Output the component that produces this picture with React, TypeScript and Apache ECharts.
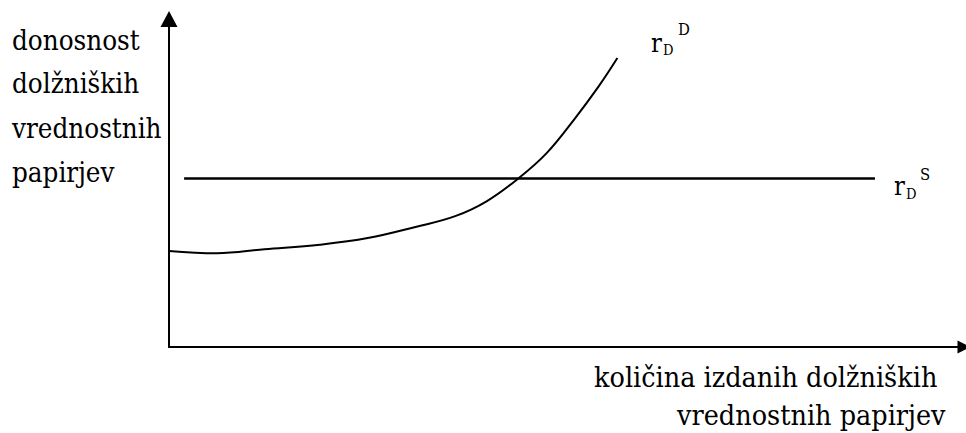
import React, { useEffect, useRef } from "react";
import * as echarts from "echarts";

// Demand curve r_D^D (x = quantity, y = yield), arbitrary units 0..100
const demandX = [0, 6, 12, 19, 25, 31, 36, 40, 44, 47.5, 51, 54, 56.4];
const demandY = [29.3, 28.6, 29.8, 31.2, 33.2, 36.6, 39.9, 44.5, 51.5, 59.1, 69.5, 79.3, 88.1];

// Supply line r_D^S (horizontal)
const supplyX = [1.9, 88.8];
const supplyY = [51.4, 51.4];

const yAxisTitle = ["donosnost", "dolžniških", "vrednostnih", "papirjev"];
const xAxisTitle = ["količina izdanih dolžniških", "vrednostnih papirjev"];
const demandLabel = { main: "r", sub: "D", sup: "D" };
const supplyLabel = { main: "r", sub: "D", sup: "S" };

const FAM = "DejaVu Serif";

function txt(text: string, x: number, baseline: number, size: number, sx: number) {
  return {
    type: "text",
    x,
    y: baseline - 0.346 * size,
    scaleX: sx,
    silent: true,
    style: {
      text,
      fontSize: size,
      fontFamily: FAM,
      fill: "#000",
      verticalAlign: "middle",
      align: "left",
    },
  };
}

export default function App() {
  const ref = useRef<HTMLDivElement>(null);
  useEffect(() => {
    if (!ref.current) return;
    const chart = echarts.init(ref.current, undefined, { renderer: "svg" });
    const yBaselines = [50.5, 93, 138, 182];
    const graphics: any[] = [];
    yAxisTitle.forEach((t, i) => graphics.push(txt(t, 12, yBaselines[i], 27.5, 0.9)));
    graphics.push(txt(xAxisTitle[0], 594, 387, 27.5, 0.93));
    graphics.push(txt(xAxisTitle[1], 677, 425, 27.5, 0.93));
    graphics.push(txt(demandLabel.main, 651, 51.7, 26, 0.875));
    graphics.push(txt(demandLabel.sub, 663, 55, 15, 0.875));
    graphics.push(txt(demandLabel.sup, 678, 35, 17, 0.875));
    graphics.push(txt(supplyLabel.main, 894, 195, 26, 0.875));
    graphics.push(txt(supplyLabel.sub, 906, 199, 15, 0.875));
    graphics.push(txt(supplyLabel.sup, 920, 180, 17, 0.875));

    chart.setOption({
      animation: false,
      backgroundColor: "#fff",
      grid: { left: 169, right: 2, top: 19, bottom: 86, containLabel: false },
      xAxis: {
        type: "value",
        min: 0,
        max: 100,
        axisLine: {
          show: true,
          onZero: false,
          symbol: ["none", "triangle"],
          symbolSize: [13, 13],
          lineStyle: { color: "#000", width: 2 },
        },
        axisTick: { show: false },
        axisLabel: { show: false },
        splitLine: { show: false },
      },
      yAxis: {
        type: "value",
        min: 0,
        max: 100,
        axisLine: {
          show: true,
          onZero: false,
          symbol: ["none", "triangle"],
          symbolSize: [17, 16],
          lineStyle: { color: "#000", width: 2 },
        },
        axisTick: { show: false },
        axisLabel: { show: false },
        splitLine: { show: false },
      },
      series: [
        {
          name: "rDS",
          type: "line",
          data: supplyX.map((x, i) => [x, supplyY[i]]),
          showSymbol: false,
          symbol: "none",
          lineStyle: { color: "#000", width: 2.5 },
          silent: true,
        },
        {
          name: "rDD",
          type: "line",
          data: demandX.map((x, i) => [x, demandY[i]]),
          smooth: 0.4,
          showSymbol: false,
          symbol: "none",
          lineStyle: { color: "#000", width: 2 },
          silent: true,
        },
      ],
      graphic: graphics,
    });
    return () => chart.dispose();
  }, []);
  return (
    <div
      ref={ref}
      style={{ position: "fixed", left: 0, top: 0, width: 966, height: 433, background: "#fff" }}
    />
  );
}
